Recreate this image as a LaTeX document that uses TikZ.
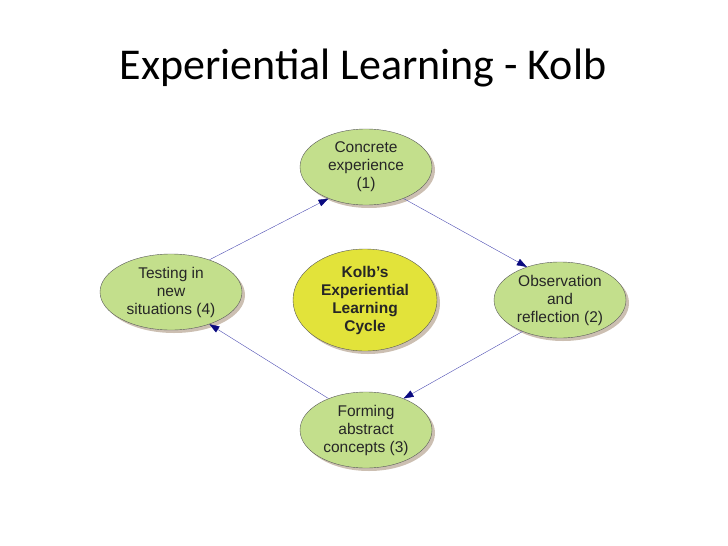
\documentclass[tikz,border=0pt]{standalone}
\usepackage{fontspec}
\setmainfont{Liberation Sans}
\newfontfamily\titlefont{Carlito}
\usetikzlibrary{shapes.geometric,shadows,arrows.meta}
\definecolor{stagegreen}{HTML}{C3DF8C}
\definecolor{hubyellow}{HTML}{E2E33A}
\definecolor{arrowblue}{HTML}{0A0A80}
\begin{document}
\begin{tikzpicture}
[
x=1pt, y=-1pt,
stage/.style={ellipse,draw=gray!70!black,fill=stagegreen,minimum width=132pt,minimum height=76pt,
  align=center,font=\fontsize{15.5}{18}\selectfont,inner sep=0pt,text=black!85,
  drop shadow={shadow xshift=3pt,shadow yshift=-3pt,fill=brown!40!gray}},
flow/.style={draw=gray!60!blue,thin,-{Triangle[length=10pt,width=7pt,fill=arrowblue,color=arrowblue]}}
]
\useasboundingbox (0,0) rectangle (728,546);
\node[font=\titlefont\fontsize{44}{48}\selectfont] (title) at (363,68) {Experiential Learning - Kolb};
\node[stage] (concrete) at (366,167) {Concrete\\experience\\(1)};
\node[stage,minimum width=142pt] (testing) at (171,292) {Testing in\\new\\situations (4)};
\node[stage] (observe) at (560,300) {Observation\\and\\reflection (2)};
\node[stage] (abstract) at (366,430) {Forming\\abstract\\concepts (3)};
\node[stage,fill=hubyellow,minimum width=144pt,minimum height=102pt,font=\bfseries\fontsize{15.5}{18}\selectfont] (kolb) at (365,300) {Kolb's\\Experiential\\Learning\\Cycle};
% the cycle
\draw[flow] (concrete.-40) -- (observe.135);
\draw[flow] (observe.-140) -- (abstract.40);
\draw[flow] (abstract.140) -- (testing.-40);
\draw[flow] (testing.40) -- (concrete.-140);
\end{tikzpicture}
\end{document}
